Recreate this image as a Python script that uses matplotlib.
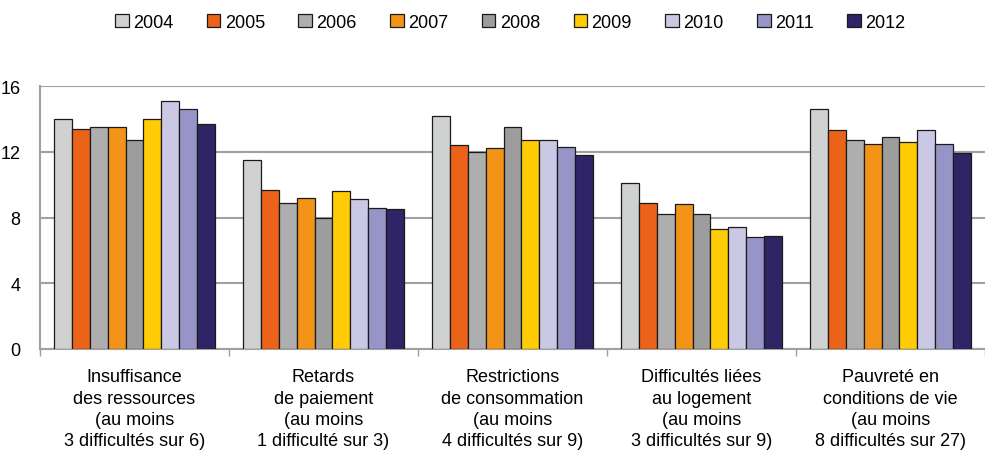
import numpy as np
import matplotlib.pyplot as plt

plt.rcParams['font.family'] = ['Liberation Sans', 'DejaVu Sans']

# categories and yearly values
categories = [
    "Insuffisance\ndes ressources\n(au moins\n3 difficultés sur 6)",
    "Retards\nde paiement\n(au moins\n1 difficulté sur 3)",
    "Restrictions\nde consommation\n(au moins\n4 difficultés sur 9)",
    "Difficultés liées\nau logement\n(au moins\n3 difficultés sur 9)",
    "Pauvreté en\nconditions de vie\n(au moins\n8 difficultés sur 27)",
]
years = ["2004", "2005", "2006", "2007", "2008", "2009", "2010", "2011", "2012"]

v2004 = [14.0, 11.5, 14.2, 10.1, 14.6]
v2005 = [13.4, 9.7, 12.4, 8.9, 13.3]
v2006 = [13.5, 8.9, 12.0, 8.2, 12.7]
v2007 = [13.5, 9.2, 12.2, 8.8, 12.5]
v2008 = [12.7, 8.0, 13.5, 8.2, 12.9]
v2009 = [14.0, 9.6, 12.7, 7.3, 12.6]
v2010 = [15.1, 9.1, 12.7, 7.4, 13.3]
v2011 = [14.6, 8.6, 12.3, 6.8, 12.5]
v2012 = [13.7, 8.5, 11.8, 6.9, 11.9]
series = [v2004, v2005, v2006, v2007, v2008, v2009, v2010, v2011, v2012]

colors = ['#D0D2D1', '#EB6219', '#AEAEAE', '#F39418', '#9C9D9C',
          '#FFCC05', '#CAC8E5', '#9795C8', '#2F2566']

fig = plt.figure(figsize=(9.85, 4.64), dpi=100)
ax = fig.add_axes([40 / 985, 1 - 350 / 464, 945 / 985, 263 / 464])

x = np.arange(len(categories))
w = 0.0947
for i, (vals, yr) in enumerate(zip(series, years)):
    ax.bar(x + (i - 4) * w, vals, width=w, color=colors[i], edgecolor='#1a1a1a',
           linewidth=0.9, label=yr, zorder=3)

ax.set_xlim(-0.5, len(categories) - 0.5)
ax.set_ylim(0, 16)
ax.set_yticks([0, 4, 8, 12, 16])
ax.yaxis.grid(True, color='#A0A0A0', linewidth=1.5, zorder=0)
ax.set_axisbelow(True)

ax.set_xticks(x)
ax.set_xticklabels(categories, fontsize=13, linespacing=1.32)
ax.set_xticks(np.arange(-0.5, len(categories)), minor=True)
ax.tick_params(axis='x', which='major', length=0, pad=14)
ax.tick_params(axis='x', which='minor', length=5, color='#A0A0A0', width=1)
ax.tick_params(axis='y', length=0, labelsize=13, pad=14)

for s in ['top', 'right']:
    ax.spines[s].set_visible(False)
ax.spines['left'].set_color('#A0A0A0')
ax.spines['bottom'].set_color('#A0A0A0')
ax.spines['left'].set_linewidth(1.5)
ax.spines['bottom'].set_linewidth(1.5)

handles, labels = ax.get_legend_handles_labels()
fig.legend(handles, labels, loc='center', bbox_to_anchor=(0.518, 0.95), ncol=9,
           frameon=False, fontsize=13, handlelength=0.75, handleheight=0.75,
           handletextpad=0.25, columnspacing=1.85)

plt.savefig('out.png', dpi=100)
plt.close()
